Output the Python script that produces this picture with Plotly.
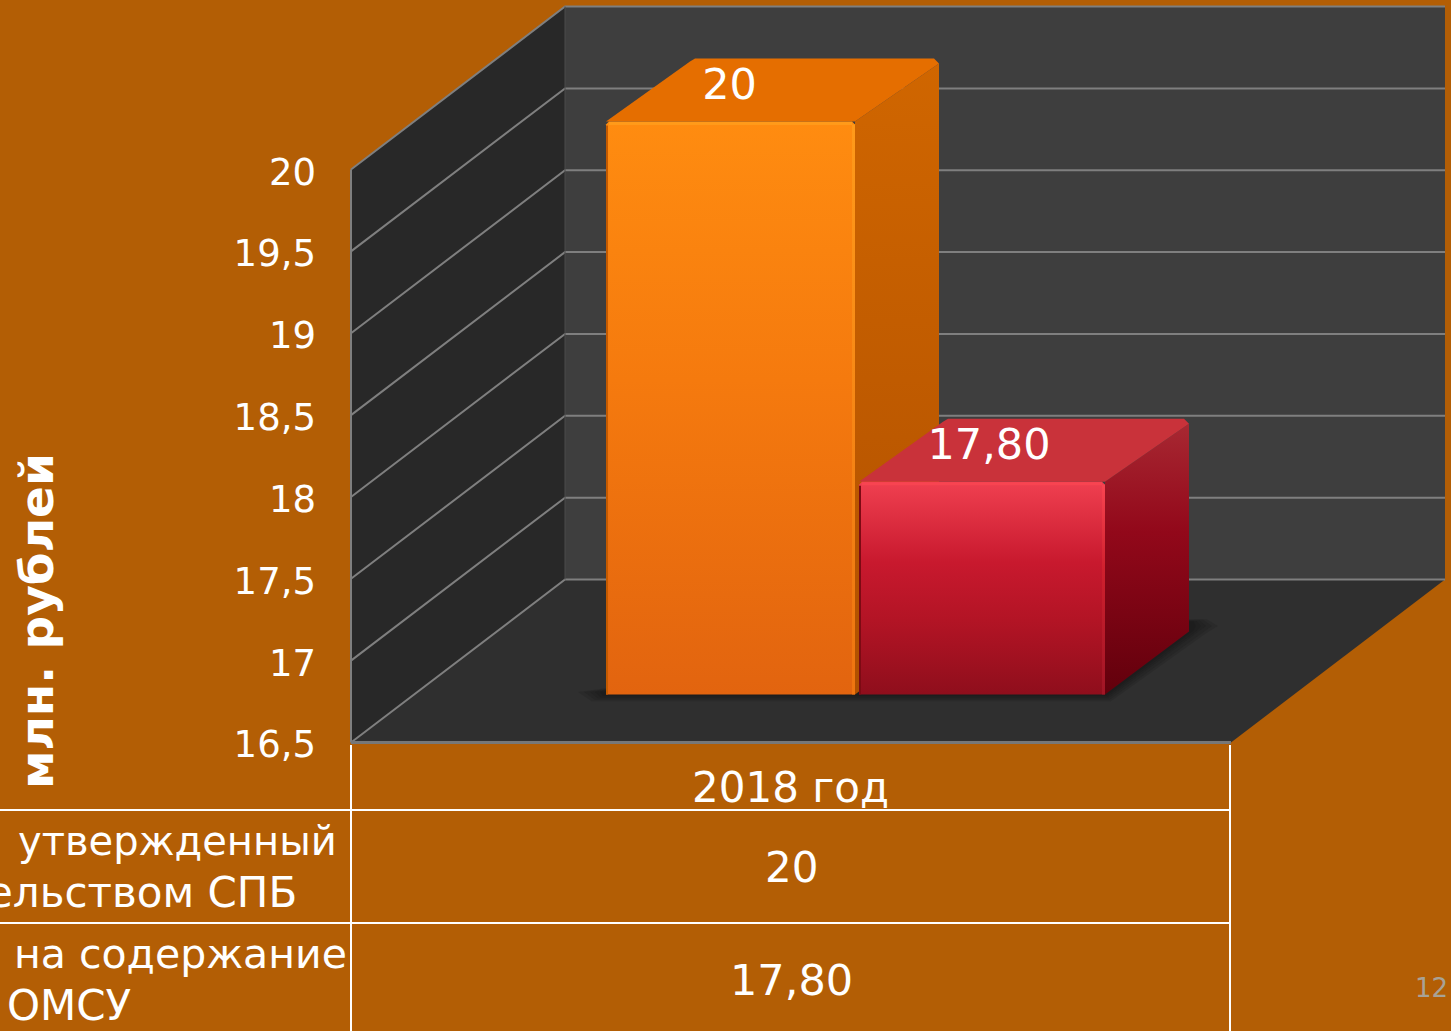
import plotly.graph_objects as go

# ---- data ----
categories = ["2018 год"]
series_a_values = [20]
series_b_values = [17.80]
value_labels = ["20", "17,80"]
tick_values = [16.5, 17, 17.5, 18, 18.5, 19, 19.5, 20]
tick_labels = ["16,5", "17", "17,5", "18", "18,5", "19", "19,5", "20"]
axis_title = "млн. рублей"
row_a_lines = ["утвержденный", "ельством СПБ"]
row_b_lines = ["на содержание", "ОМСУ"]
page_number = "12"

# ---- layout constants (pixels of the 1451x1031 page) ----
W, H = 1451, 1031
BASE_PX, PX_PER_UNIT = 742.5, 163.7
VMIN, VMAX = 16.5, 20
TICK_SHIFT_PX = 2


def V(px):
    return VMIN + (BASE_PX - px) / PX_PER_UNIT


def dV(px):
    return px / PX_PER_UNIT


FRONT_L, FRONT_R = 351, 1231
DEPTH_X, DEPTH_Y = 214, 163
BG = "#B35E05"
GRID = "#7f7f7f"
WHITE = "#FFFFFF"
FONT = "DejaVu Sans"

fig = go.Figure()


def poly(xs, ys, color=None, grad=None, line=None, lw=0):
    kw = dict(
        x=xs + xs[:1], y=ys + ys[:1], mode="lines", fill="toself",
        line=dict(width=lw, color=line or "rgba(0,0,0,0)"),
        hoverinfo="skip", showlegend=False,
    )
    if grad:
        kw["fillgradient"] = dict(type="vertical", colorscale=grad)
    else:
        kw["fillcolor"] = color
    fig.add_trace(go.Scatter(**kw))


def seg(xs, ys, color=GRID, width=2):
    fig.add_trace(go.Scatter(x=xs, y=ys, mode="lines", line=dict(color=color, width=width),
                             hoverinfo="skip", showlegend=False))


# walls and floor
d = dV(DEPTH_Y)
poly([FRONT_L, FRONT_L + DEPTH_X, FRONT_L + DEPTH_X, FRONT_L],
     [VMIN, VMIN + d, VMAX + d, VMAX], color="#282828")
poly([FRONT_L + DEPTH_X, 1445, 1445, FRONT_L + DEPTH_X],
     [VMIN + d, VMIN + d, VMAX + d, VMAX + d], color="#3e3e3e")
poly([FRONT_L, FRONT_R, 1445, FRONT_L + DEPTH_X],
     [VMIN, VMIN, VMIN + d, VMIN + d], color="#2f2f2f")

# gridlines
for t in tick_values:
    seg([FRONT_L, FRONT_L + DEPTH_X, 1445], [t, t + d, t + d])
seg([FRONT_L, FRONT_L], [VMIN, VMAX], color=GRID)
seg([FRONT_L, FRONT_R], [VMIN, VMIN], color="#777777", width=3)
seg([FRONT_L + DEPTH_X, FRONT_L + DEPTH_X], [VMIN + d, VMAX + d], color="#4a4a4a", width=1)

# soft shadow on the floor
FLOOR_PX = 694.5
fb = V(FLOOR_PX)
for s in (28, 22, 16, 11, 6):
    poly([606 - s, 606 - s * 0.5, 1105 + s * 0.2, 1190 + s * 0.6, 1190 + s, 1190 + s * 0.6, 1100],
         [V(692), V(FLOOR_PX + s * 0.25), V(FLOOR_PX + s * 0.25),
          V(630 + s * 0.1), V(626), V(622 - s * 0.1), V(620)],
         color="rgba(12,12,12,0.13)")

# bars
BAR_DX, BAR_DY = 84, 63
C = 5  # size of the softened corners
bars = [
    dict(x0=606, x1=855, v=series_a_values[0],
         front=[[0, "#E2640F"], [0.55, "#F57A0E"], [1, "#FF8C10"]],
         side=[[0, "#B05000"], [1, "#D06600"]],
         top="#E56E00",
         edge=[[0, "#EE7410"], [1, "#FF9A1A"]],
         topedge="#FF9A1A", dark="#C45A00", label_dx=-1),
    dict(x0=859, x1=1105, v=series_b_values[0],
         front=[[0, "#8F0E1C"], [0.35, "#B31425"], [0.62, "#C8192E"], [1, "#F04050"]],
         side=[[0, "#62000C"], [0.6, "#92081A"], [1, "#A82832"]],
         top="#C9323A",
         edge=[[0, "#A01525"], [0.6, "#D0202E"], [1, "#F84451"]],
         topedge="#F84451", dark="#7D0A14", label_dx=7),
]
for b, label in zip(bars, value_labels):
    x0, x1, v = b["x0"], b["x1"], fb + (b["v"] - VMIN)
    dd = dV(BAR_DY)
    c = dV(C)
    # side, top, front faces (back corners slightly softened)
    poly([x1, x1 + BAR_DX, x1 + BAR_DX, x1], [fb, fb + dd, v + dd - c, v], grad=b["side"])
    poly([x0, x1, x1 + BAR_DX, x1 + BAR_DX - C, x0 + BAR_DX + C, x0 + BAR_DX],
         [v, v, v + dd - c, v + dd, v + dd, v + dd - c * 0.6], color=b["top"])
    poly([x0, x1, x1, x1 - 3, x0 + 3, x0], [fb, fb, v - c * 0.6, v, v, v - c * 0.6], grad=b["front"])
    # bevel edges
    seg([x0 + 3, x1 - 3], [v - dV(2), v - dV(2)], color=b["topedge"], width=3)
    poly([x1 - 3, x1, x1, x1 - 3], [fb, fb, v - dV(3), v - dV(3)], grad=b["edge"])
    seg([x0 + 1, x0 + 1], [fb, v - dV(4)], color=b["dark"], width=2)
    # data label
    fig.add_trace(go.Scatter(
        x=[(x0 + x1) / 2 + b["label_dx"]], y=[v + dV(33)], mode="text", text=[label],
        textposition="middle center", textfont=dict(family=FONT, size=43, color=WHITE),
        hoverinfo="skip", showlegend=False))

# data table lines
for py in (810, 923):
    seg([0, 1230], [V(py), V(py)], color=WHITE, width=2)
for px in (351, 1230):
    seg([px, px], [V(745), V(1031)], color=WHITE, width=2)


def note(x, py, text, size=42, anchor="center", color=WHITE, bold=False, angle=0):
    fig.add_annotation(x=x, y=V(py), text=f"<b>{text}</b>" if bold else text, xref="x", yref="y",
                       showarrow=False, xanchor=anchor, yanchor="middle", textangle=angle,
                       font=dict(family=FONT, size=size, color=color))


note(790, 787, categories[0])
note(791, 867, value_labels[0])
note(791, 980, value_labels[1], size=43)
note(339, 841, row_a_lines[0], size=40, anchor="right")
note(299, 892, row_a_lines[1], size=42, anchor="right")
note(349, 954, row_b_lines[0], size=41, anchor="right")
note(133, 1005, row_b_lines[1], size=42, anchor="right")
note(36, 621, axis_title, size=47, bold=True, angle=-90)
note(1431, 988, page_number, size=26, color="#A8A296")

# the value axis (its labels sit a touch below their gridlines, as in the picture)
fig.add_trace(go.Scatter(x=[0], y=[VMIN], yaxis="y2", mode="markers", marker=dict(opacity=0),
                         hoverinfo="skip", showlegend=False))

fig.update_layout(
    width=W, height=H, autosize=False, margin=dict(l=0, r=0, t=0, b=0),
    paper_bgcolor=BG, plot_bgcolor=BG, showlegend=False,
    xaxis=dict(range=[0, W], visible=False, fixedrange=True, domain=[0, 1]),
    yaxis=dict(range=[V(H), V(0)], domain=[0, 1], fixedrange=True, visible=False),
    yaxis2=dict(range=[V(H - TICK_SHIFT_PX), V(-TICK_SHIFT_PX)], domain=[0, 1], fixedrange=True,
                overlaying="y", anchor="free", position=316 / W, side="left",
                showgrid=False, zeroline=False, showline=False,
                ticks="", tickmode="array", tickvals=tick_values, ticktext=tick_labels,
                tickfont=dict(family=FONT, size=37, color=WHITE)),
)
fig.write_html("out.html", config=dict(displayModeBar=False),
               post_script="document.body.style.margin='0';document.body.style.overflow='hidden';")
